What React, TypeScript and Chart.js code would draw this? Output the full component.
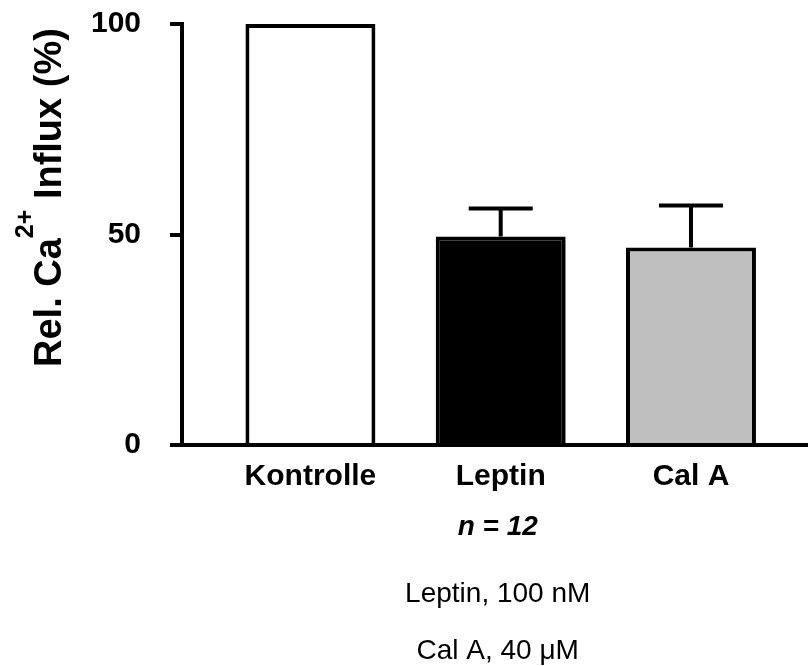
import React, { useEffect, useRef } from "react";
import { Chart, registerables } from "chart.js";

Chart.register(...registerables);

const categories = ["Kontrolle", "Leptin", "Cal A"];
const values = [100, 49.5, 46.9];
const errors = [0, 6.7, 10.0];
const barColors = ["#ffffff", "#000000", "#bfbfbf"];
const yTicks = [0, 50, 100];
const yTitleMain = "Rel. Ca";
const yTitleSup = "2+";
const yTitleRest = " Influx (%)";
const nLabel = "n = 12";
const conditions = ["Leptin, 100 nM", "Cal A, 40 μM"];

const FONT = "'Liberation Sans', Arial, Helvetica, sans-serif";

const errorBarPlugin = {
  id: "errorBars",
  afterDatasetsDraw(chart: any) {
    const { ctx } = chart;
    const y = chart.scales.y;
    const meta = chart.getDatasetMeta(0);
    ctx.save();
    ctx.strokeStyle = "#000";
    ctx.lineWidth = 4;
    ctx.lineCap = "butt";
    meta.data.forEach((bar: any, i: number) => {
      const e = errors[i];
      if (!e) return;
      const x = bar.x;
      const y0 = y.getPixelForValue(values[i]);
      const y1 = y.getPixelForValue(values[i] + e);
      ctx.beginPath();
      ctx.moveTo(x, y0);
      ctx.lineTo(x, y1);
      ctx.moveTo(x - 32, y1);
      ctx.lineTo(x + 32, y1);
      ctx.stroke();
    });
    ctx.restore();
  },
};

const textPlugin = {
  id: "texts",
  afterDraw(chart: any) {
    const ctx = chart.ctx;
    const xs = chart.scales.x;
    ctx.save();
    ctx.fillStyle = "#000";
    // rotated y-axis title with superscript
    ctx.save();
    ctx.translate(61, 367);
    ctx.rotate(-Math.PI / 2);
    ctx.textBaseline = "alphabetic";
    ctx.textAlign = "left";
    ctx.font = `bold 38px ${FONT}`;
    ctx.fillText(yTitleMain, 0, 0);
    let w = ctx.measureText(yTitleMain).width;
    ctx.font = `bold 25px ${FONT}`;
    ctx.fillText(yTitleSup, w, -28);
    w += ctx.measureText(yTitleSup).width;
    ctx.font = `bold 38px ${FONT}`;
    ctx.fillText(yTitleRest, w, 0);
    ctx.restore();

    const cx = xs.getPixelForValue(2) - 3;
    ctx.textAlign = "center";
    ctx.textBaseline = "alphabetic";
    ctx.font = `italic bold 28px ${FONT}`;
    ctx.fillText(nLabel, cx, 535);
    ctx.font = `28px ${FONT}`;
    ctx.fillText(conditions[0], cx, 602);
    ctx.fillText(conditions[1], cx, 659);
    ctx.restore();
  },
};

export default function App() {
  const ref = useRef<HTMLCanvasElement | null>(null);
  useEffect(() => {
    if (!ref.current) return;
    const chart = new Chart(ref.current, {
      type: "bar",
      data: {
        datasets: [
          {
            data: categories.map((_, i) => ({ x: i + 1, y: values[i] })) as any,
            backgroundColor: barColors,
            borderColor: "#000",
            borderWidth: 4,
            categoryPercentage: 1,
            barPercentage: 0.683,
          },
        ],
      },
      options: {
        animation: false,
        responsive: false,
        maintainAspectRatio: false,
        devicePixelRatio: 1,
        layout: { padding: { top: 24, left: 0, right: 0, bottom: 0 } },
        plugins: { legend: { display: false }, tooltip: { enabled: false } },
        scales: {
          x: {
            type: "linear",
            min: 0.325,
            max: 3.615,
            offset: false,
            z: 1,
            afterBuildTicks: (s: any) => {
              s.ticks = categories.map((_, i) => ({ value: i + 1 }));
            },
            afterFit: (s: any) => {
              s.height = 221;
              s.paddingLeft = 0;
              s.paddingRight = 0;
            },
            grid: { display: false, drawTicks: false, offset: false },
            border: { display: true, color: "#000", width: 4 },
            ticks: {
              callback: (_v: any, i: number) => categories[i],
              font: { family: FONT, size: 30, weight: "bold" },
              color: "#000",
              padding: 14,
              maxRotation: 0,
              autoSkip: false,
            },
          },
          y: {
            min: 0,
            max: 100,
            z: 1,
            afterBuildTicks: (s: any) => {
              s.ticks = yTicks.map((v) => ({ value: v }));
            },
            afterFit: (s: any) => {
              s.width = 182;
              s.paddingTop = 0;
              s.paddingBottom = 0;
            },
            grid: {
              display: true,
              drawOnChartArea: false,
              drawTicks: true,
              tickLength: 12,
              lineWidth: 4,
              color: "#000",
            },
            border: { display: true, color: "#000", width: 4 },
            ticks: {
              font: { family: FONT, size: 30, weight: "bold" },
              color: "#000",
              padding: 29,
            },
          },
        },
      } as any,
      plugins: [errorBarPlugin, textPlugin],
    });
    return () => chart.destroy();
  }, []);
  return (
    <div style={{ position: "absolute", left: 0, top: 0, width: 808, height: 666, background: "#fff" }}>
      <canvas ref={ref} width={808} height={666} style={{ display: "block" }} />
    </div>
  );
}
